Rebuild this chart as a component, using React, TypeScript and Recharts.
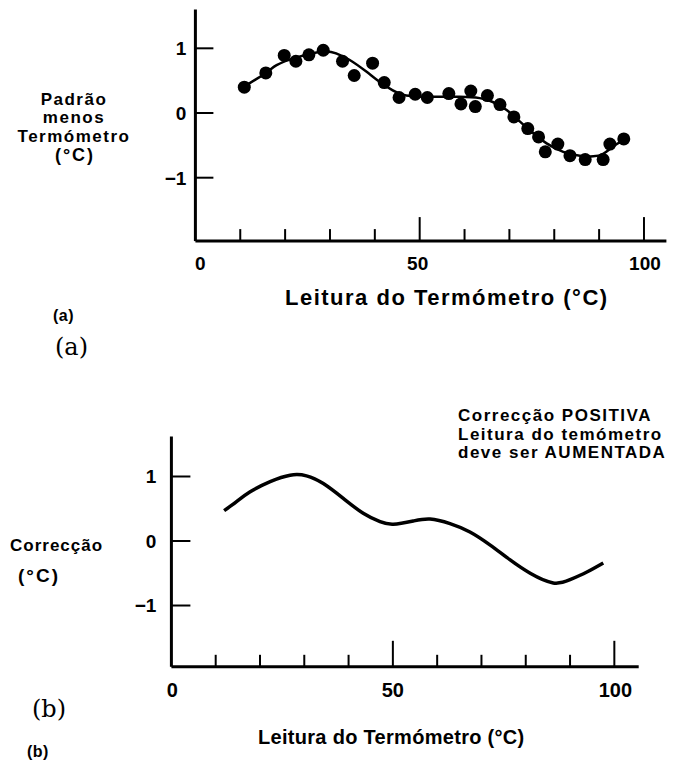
import { ComposedChart, Scatter, Line, XAxis, YAxis } from 'recharts';

const FONT = '"Liberation Sans", Arial, Helvetica, sans-serif';
const SERIF = '"DejaVu Serif", "Liberation Serif", serif';

// (a) measured points: thermometer reading vs. standard minus thermometer
const readingsA = [10.9, 15.7, 19.8, 22.4, 25.3, 28.5, 32.8, 35.4, 39.5, 42.1, 45.4, 49.0, 51.7, 56.5, 59.2, 61.4, 62.4, 65.1, 67.9, 71.0, 74.1, 76.5, 78.0, 80.8, 83.5, 86.9, 90.9, 92.4, 95.5];
const deviationsA = [0.40, 0.62, 0.89, 0.80, 0.90, 0.97, 0.80, 0.58, 0.77, 0.47, 0.24, 0.29, 0.24, 0.30, 0.14, 0.34, 0.10, 0.27, 0.13, -0.06, -0.24, -0.37, -0.60, -0.48, -0.66, -0.72, -0.72, -0.48, -0.40];

// (a) smoothed curve through the points
const fitReadings = [10.9, 15.7, 18.1, 22.6, 28.5, 31.4, 34.4, 38.1, 41.1, 44.0, 47.0, 52.9, 58.9, 63.4, 66.3, 69.3, 72.3, 75.3, 78.3, 82.0, 85.7, 88.7, 90.9, 93.1, 95.4];
const fitValues = [0.41, 0.62, 0.74, 0.86, 0.95, 0.92, 0.82, 0.64, 0.48, 0.35, 0.27, 0.25, 0.25, 0.23, 0.17, 0.05, -0.13, -0.31, -0.47, -0.60, -0.66, -0.67, -0.63, -0.52, -0.42];

// (b) correction curve
const corrReadings = [11.9, 14.7, 17.7, 22.3, 26.8, 30.5, 34.3, 38.8, 43.3, 47.1, 50.1, 54.6, 58.4, 62.9, 67.4, 71.9, 76.4, 81.0, 86.2, 90.0, 93.8, 97.5];
const corrValues = [0.47, 0.61, 0.76, 0.92, 1.02, 1.01, 0.89, 0.66, 0.43, 0.30, 0.26, 0.31, 0.34, 0.27, 0.14, -0.06, -0.29, -0.50, -0.65, -0.60, -0.48, -0.34];

const xTicks = [0, 10, 20, 30, 40, 50, 60, 70, 80, 90, 100];
const yTicks = [-1, 0, 1];

const pointsA = readingsA.map((x, i) => ({ x, y: deviationsA[i] }));
const fitA = fitReadings.map((x, i) => ({ x, y: fitValues[i] }));
const curveB = corrReadings.map((x, i) => ({ x, y: corrValues[i] }));

const fmt = (v: number) => (v < 0 ? `\u2212${Math.abs(v)}` : String(v));

// x ticks point up into the plot; 50 and 100 are longer, only those get labels
function makeXTick(major: number, minor: number, fontSize: number, dy: number, nudge: Record<number, number>) {
  return (props: any) => {
    const { x, y, payload } = props;
    const v = payload.value as number;
    const len = v === 0 ? 0 : v % 50 === 0 ? major : minor;
    return (
      <g>
        {len > 0 && <line x1={x} x2={x} y1={y} y2={y - len} stroke="#000" strokeWidth={2} />}
        {v % 50 === 0 && (
          <text x={x + (nudge[v] ?? 0)} y={y + dy} textAnchor="middle" fontFamily={FONT} fontWeight="bold" fontSize={fontSize} fill="#000">
            {v}
          </text>
        )}
      </g>
    );
  };
}

function makeYTick(len: number, gap: number, fontSize: number) {
  return (props: any) => {
    const { x, y, payload } = props;
    const v = payload.value as number;
    return (
      <g>
        <line x1={x} x2={x + len} y1={y} y2={y} stroke="#000" strokeWidth={2} />
        <text x={x - gap} y={y + fontSize * 0.36} textAnchor="end" fontFamily={FONT} fontWeight="bold" fontSize={fontSize} fill="#000">
          {fmt(v)}
        </text>
      </g>
    );
  };
}

const axisStroke = { stroke: '#000', strokeWidth: 3 };

function Dot(props: any) {
  return <circle cx={props.cx} cy={props.cy} r={6.5} fill="#000" />;
}

const txt = (extra: any = {}) => ({ fontFamily: FONT, fontWeight: 'bold' as const, fill: '#000', ...extra });

export default function App() {
  return (
    <div style={{ position: 'absolute', left: 0, top: 0, width: 677, height: 763, background: '#fff', overflow: 'hidden' }}>
      <div style={{ position: 'absolute', left: 0, top: 0 }}>
        <ComposedChart width={677} height={300} margin={{ top: 9.5, right: 10.6, bottom: 18.9, left: 155.4 }}>
          <XAxis
            type="number"
            dataKey="x"
            domain={[0, 105]}
            ticks={xTicks}
            interval={0}
            allowDataOverflow
            height={40}
            tickSize={0}
            tickMargin={0}
            tickLine={false}
            axisLine={axisStroke}
            tick={makeXTick(24, 12, 19, 29, { 0: 5, 50: -2, 100: 1 })}
          />
          <YAxis
            type="number"
            dataKey="y"
            domain={[-1.98, 1.6]}
            ticks={yTicks}
            interval={0}
            allowDataOverflow
            width={40}
            tickSize={0}
            tickMargin={0}
            tickLine={false}
            axisLine={axisStroke}
            tick={makeYTick(18, 9, 19)}
          />
          <Line data={fitA} dataKey="y" type="natural" stroke="#000" strokeWidth={2.5} dot={false} activeDot={false} isAnimationActive={false} />
          <Scatter data={pointsA} dataKey="y" fill="#000" shape={Dot} isAnimationActive={false} />
        </ComposedChart>
      </div>

      <div style={{ position: 'absolute', left: 0, top: 400 }}>
        <ComposedChart width={677} height={320} margin={{ top: 36.5, right: 38.3, bottom: 13.2, left: 131.4 }}>
          <XAxis
            type="number"
            dataKey="x"
            domain={[0, 105.5]}
            ticks={xTicks}
            interval={0}
            allowDataOverflow
            height={40}
            tickSize={0}
            tickMargin={0}
            tickLine={false}
            axisLine={axisStroke}
            tick={makeXTick(26, 12, 20, 30, { 0: 1, 100: 1 })}
          />
          <YAxis
            type="number"
            dataKey="y"
            domain={[-1.95, 1.62]}
            ticks={yTicks}
            interval={0}
            allowDataOverflow
            width={40}
            tickSize={0}
            tickMargin={0}
            tickLine={false}
            axisLine={axisStroke}
            tick={makeYTick(19, 15, 19)}
          />
          <Line data={curveB} dataKey="y" type="natural" stroke="#000" strokeWidth={3.5} dot={false} activeDot={false} isAnimationActive={false} />
        </ComposedChart>
      </div>

      <svg width={677} height={763} style={{ position: 'absolute', left: 0, top: 0, pointerEvents: 'none' }}>
        {/* (a) labels */}
        <text x={74} y={105} textAnchor="middle" fontSize={17} letterSpacing={1.5} {...txt()}>Padrão</text>
        <text x={74} y={123} textAnchor="middle" fontSize={17} letterSpacing={1.5} {...txt()}>menos</text>
        <text x={74} y={142} textAnchor="middle" fontSize={17} letterSpacing={1.5} {...txt()}>Termómetro</text>
        <text x={75} y={161} textAnchor="middle" fontSize={18} letterSpacing={2} {...txt()}>(°C)</text>
        <text x={285} y={305} fontSize={22} letterSpacing={1.5} {...txt()}>Leitura do Termómetro (°C)</text>
        <text x={53} y={321} fontSize={16} letterSpacing={0.5} {...txt()}>(a)</text>
        <text x={55} y={355} fontSize={24} fontFamily={SERIF} fill="#000">(a)</text>

        {/* (b) labels */}
        <text x={458} y={420.7} fontSize={17} letterSpacing={1.5} {...txt()}>Correcção POSITIVA</text>
        <text x={458} y={440} fontSize={17} letterSpacing={1.5} {...txt()}>Leitura do temómetro</text>
        <text x={458} y={458.3} fontSize={17} letterSpacing={1.5} {...txt()}>deve ser AUMENTADA</text>
        <text x={10} y={551} fontSize={17} letterSpacing={1} {...txt()}>Correcção</text>
        <text x={18} y={582} fontSize={19} letterSpacing={2} {...txt()}>(°C)</text>
        <text x={32} y={717} fontSize={24} fontFamily={SERIF} fill="#000">(b)</text>
        <text x={258} y={744} fontSize={20} letterSpacing={0.3} {...txt()}>Leitura do Termómetro (°C)</text>
        <text x={27} y={757} fontSize={16} letterSpacing={0.5} {...txt()}>(b)</text>
      </svg>
    </div>
  );
}
